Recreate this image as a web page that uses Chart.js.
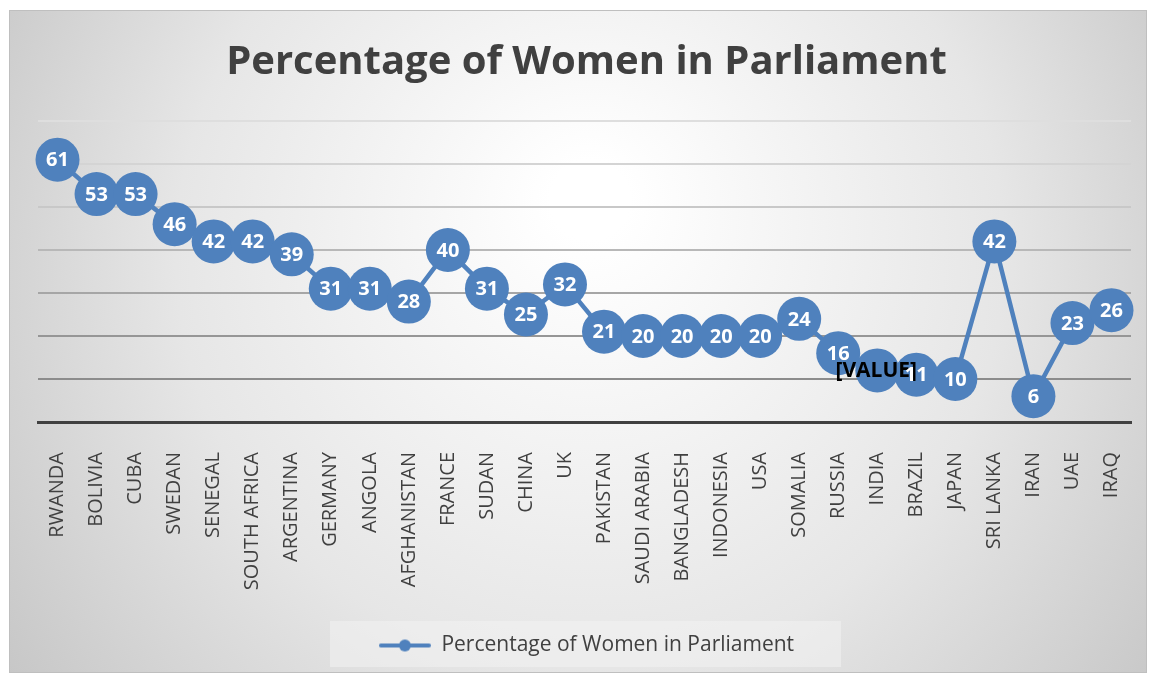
<!DOCTYPE html>
<html>
<head>
<meta charset="utf-8">
<script src="https://cdn.jsdelivr.net/npm/chart.js@4"></script>
<style>
  html, body { margin: 0; padding: 0; background: #ffffff; }
  #wrap { width: 1153px; height: 677px; }
</style>
</head>
<body>
<div id="wrap"><canvas id="myChart" width="1153" height="677"></canvas></div>
<script>
const countries = ['RWANDA', 'BOLIVIA', 'CUBA', 'SWEDAN', 'SENEGAL', 'SOUTH AFRICA', 'ARGENTINA',
    'GERMANY', 'ANGOLA', 'AFGHANISTAN', 'FRANCE', 'SUDAN', 'CHINA', 'UK', 'PAKISTAN',
    'SAUDI ARABIA', 'BANGLADESH', 'INDONESIA', 'USA', 'SOMALIA', 'RUSSIA', 'INDIA',
    'BRAZIL', 'JAPAN', 'SRI LANKA', 'IRAN', 'UAE', 'IRAQ'];
const percentWomen = [61, 53, 53, 46, 42, 42, 39, 31, 31, 28, 40, 31, 25, 32, 21,
    20, 20, 20, 20, 24, 16, 12, 11, 10, 42, 6, 23, 26];
// label text shown inside each marker (India's label was left as a placeholder)
const pointLabels = percentWomen.map((v, i) => countries[i] === 'INDIA' ? '[VALUE]' : String(v));

const blue = '#4F81BD';

// legend marker: line with a dot
const marker = document.createElement('canvas');
marker.width = 52;
marker.height = 14;
(function () {
    const m = marker.getContext('2d');
    m.strokeStyle = blue;
    m.lineWidth = 4;
    m.lineCap = 'round';
    m.beginPath();
    m.moveTo(2, 7);
    m.lineTo(50, 7);
    m.stroke();
    m.fillStyle = blue;
    m.beginPath();
    m.arc(26, 7, 6, 0, Math.PI * 2);
    m.fill();
})();

// background panel with soft radial gradient
const panelBg = {
    id: 'panelBg',
    beforeDraw(chart) {
        const c = chart.ctx;
        const x = 9, y = 10, w = 1138, h = 663;
        c.save();
        const g = c.createRadialGradient(590, 200, 40, 590, 300, 720);
        g.addColorStop(0, '#ffffff');
        g.addColorStop(0.55, '#e6e6e6');
        g.addColorStop(1, '#c4c4c4');
        c.fillStyle = g;
        c.fillRect(x, y, w, h);
        c.strokeStyle = '#bfbfbf';
        c.lineWidth = 1;
        c.strokeRect(x + 0.5, y + 0.5, w - 1, h - 1);

        // legend box
        c.fillStyle = 'rgba(242,242,242,0.55)';
        c.fillRect(330, 621, 511, 46);
        c.restore();
    }
};

// value labels drawn inside the markers
const markerLabels = {
    id: 'markerLabels',
    afterDatasetsDraw(chart) {
        const c = chart.ctx;
        const meta = chart.getDatasetMeta(0);
        c.save();
        c.textAlign = 'center';
        c.textBaseline = 'middle';
        meta.data.forEach((pt, i) => {
            const txt = pointLabels[i];
            if (txt === '[VALUE]') {
                c.font = 'bold 21px "Open Sans"';
                c.fillStyle = '#000000';
                c.fillText(txt, pt.x - 1, pt.y + 1);
            } else {
                c.font = 'bold 20px "Open Sans"';
                c.fillStyle = '#ffffff';
                c.fillText(txt, pt.x, pt.y + 1);
            }
        });
        c.restore();
    }
};

const gridColors = {70: '#dedede', 60: '#d4d4d4', 50: '#c8c8c8', 40: '#b8b8b8', 30: '#a6a6a6', 20: '#969696', 10: '#8c8c8c'};

const data = {
    labels: countries,
    datasets: [{
        label: 'Percentage of Women in Parliament',
        data: percentWomen,
        borderColor: blue,
        backgroundColor: blue,
        borderWidth: 4.5,
        pointRadius: 22,
        pointHoverRadius: 22,
        pointBackgroundColor: blue,
        pointBorderWidth: 0,
        tension: 0,
    }],
};

const config = {
    type: 'line',
    data: data,
    options: {
        responsive: false,
        animation: false,
        layout: {
            padding: {left: 38, right: 18, top: 10, bottom: 11},
        },
        scales: {
            x: {
                offset: true,
                grid: {display: false},
                border: {display: true, color: '#404040', width: 3},
                afterFit: (scale) => {
                    scale.height = 197;
                    scale.paddingLeft = 0;
                    scale.paddingRight = 0;
                },
                ticks: {
                    minRotation: 90,
                    maxRotation: 90,
                    autoSkip: false,
                    padding: 22,
                    color: '#404040',
                    font: {family: '"Open Sans"', size: 20},
                },
            },
            y: {
                min: 0,
                max: 70,
                ticks: {display: false, stepSize: 10},
                border: {display: false},
                grid: {
                    drawTicks: false,
                    lineWidth: 2,
                    color: (ctx) => ctx.tick ? (gridColors[ctx.tick.value] || 'rgba(0,0,0,0)') : '#ccc',
                },
            },
        },
        plugins: {
            title: {
                display: true,
                text: 'Percentage of Women in Parliament',
                color: '#404040',
                font: {family: '"Open Sans"', size: 40, weight: 'bold'},
                padding: {top: 29, bottom: 34},
            },
            legend: {
                position: 'bottom',
                labels: {
                    usePointStyle: true,
                    pointStyle: marker,
                    pointStyleWidth: 52,
                    color: '#404040',
                    font: {family: '"Open Sans"', size: 21},
                    padding: 16,
                    generateLabels: (chart) => [{
                        text: chart.data.datasets[0].label,
                        pointStyle: marker,
                        fillStyle: blue,
                        strokeStyle: blue,
                        lineWidth: 0,
                        fontColor: '#404040',
                        datasetIndex: 0,
                    }],
                },
            },
            tooltip: {enabled: false},
        },
    },
    plugins: [panelBg, markerLabels],
};

const ctx = document.getElementById('myChart').getContext('2d');
const myChart = new Chart(ctx, config);
</script>
</body>
</html>
